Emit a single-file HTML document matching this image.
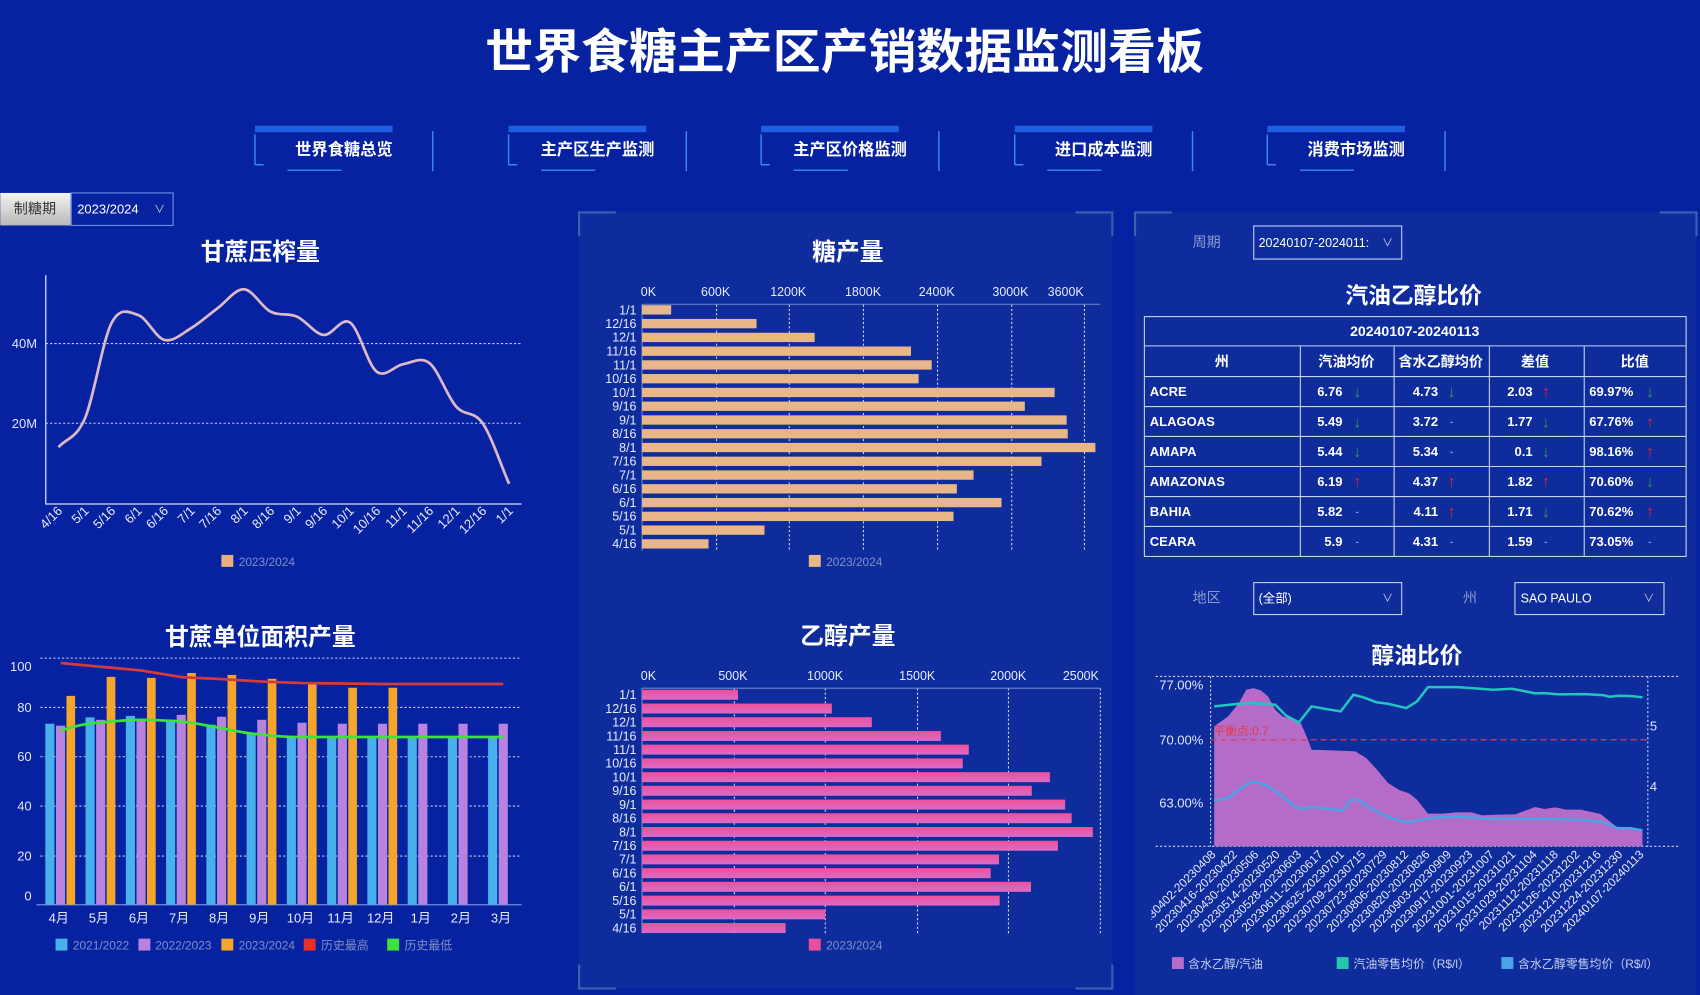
<!DOCTYPE html>
<html><head><meta charset="utf-8"><style>
html,body{margin:0;padding:0;background:#0622a0;}
svg{display:block;font-family:"Liberation Sans","Noto Sans CJK SC",sans-serif;}
</style></head><body>
<svg width="1700" height="995" viewBox="0 0 1568 918" xmlns="http://www.w3.org/2000/svg">
<defs>
<linearGradient id="pk" x1="0" y1="0" x2="0" y2="1"><stop offset="0" stop-color="#f04f9a"/><stop offset="1" stop-color="#d86cc8"/></linearGradient>
<linearGradient id="gb" x1="0" y1="0" x2="0" y2="1"><stop offset="0" stop-color="#f4f4f4"/><stop offset="1" stop-color="#b8b8b8"/></linearGradient>
<clipPath id="rc"><rect x="1062" y="600" width="500" height="318"/></clipPath>
</defs>
<rect width="1568" height="918" fill="#0622a0"/>
<!-- title -->
<text x="779" y="63" text-anchor="middle" font-size="44" font-weight="bold" fill="#fff" textLength="663" lengthAdjust="spacingAndGlyphs">世界食糖主产区产销数据监测看板</text>
<!-- nav -->
<g font-size="15" font-weight="bold" fill="#fff" text-anchor="middle">
<g transform="translate(0,0)"><rect x="235" y="116" width="127" height="6" fill="#1d5fe0"/><path d="M399 121V158M235 124V152M235 152h8M265 157h50" stroke="#3a8ae8" stroke-width="1.3" fill="none"/><text x="317" y="143">世界食糖总览</text></g>
<g transform="translate(234,0)"><rect x="235" y="116" width="127" height="6" fill="#1d5fe0"/><path d="M399 121V158M235 124V152M235 152h8M265 157h50" stroke="#3a8ae8" stroke-width="1.3" fill="none"/><text x="317" y="143">主产区生产监测</text></g>
<g transform="translate(467,0)"><rect x="235" y="116" width="127" height="6" fill="#1d5fe0"/><path d="M399 121V158M235 124V152M235 152h8M265 157h50" stroke="#3a8ae8" stroke-width="1.3" fill="none"/><text x="317" y="143">主产区价格监测</text></g>
<g transform="translate(701,0)"><rect x="235" y="116" width="127" height="6" fill="#1d5fe0"/><path d="M399 121V158M235 124V152M235 152h8M265 157h50" stroke="#3a8ae8" stroke-width="1.3" fill="none"/><text x="317" y="143">进口成本监测</text></g>
<g transform="translate(934,0)"><rect x="235" y="116" width="127" height="6" fill="#1d5fe0"/><path d="M399 121V158M235 124V152M235 152h8M265 157h50" stroke="#3a8ae8" stroke-width="1.3" fill="none"/><text x="317" y="143">消费市场监测</text></g>
</g>
<!-- 制糖期 -->
<rect x="0" y="178" width="65" height="30" fill="url(#gb)"/>
<text x="32" y="197" font-size="13" fill="#333" text-anchor="middle">制糖期</text>
<rect x="65.5" y="178" width="94" height="30" fill="none" stroke="#6f8fe8" stroke-width="1"/>
<text x="71" y="197" font-size="12" fill="#fff">2023/2024</text>
<text x="147" y="196" font-size="10" fill="#ccd" text-anchor="middle">∨</text>

<!-- panels -->
<rect x="534" y="196" width="492" height="716" fill="#0e2c9c"/>
<path d="M534 218V196h34M992 196h34v22M534 890v22h34M992 912h34v-22" stroke="#3c5fb0" stroke-width="2" fill="none"/>
<rect x="1047" y="196" width="518" height="722" fill="#0e2c9c"/>
<path d="M1047 218V196h34M1531 196h34v22" stroke="#3c5fb0" stroke-width="2" fill="none"/>

<!-- chart 1: 甘蔗压榨量 -->
<text x="240" y="240" font-size="22" font-weight="bold" fill="#fff" text-anchor="middle">甘蔗压榨量</text>
<path d="M42 317H481M42 390.5H481" stroke="#c8d2f0" stroke-dasharray="2,2" stroke-width="1"/>
<path d="M42 254V465H481" stroke="#d8def2" stroke-width="1.2" fill="none"/>
<g font-size="12" fill="#e0e6ff" text-anchor="end"><text x="34" y="321">40M</text><text x="34" y="395">20M</text></g>
<path d="M53.7,412.6 C61.9,403.7 70.0,405.0 78.2,385.9 C86.3,366.8 94.5,314.1 102.6,298.2 C110.8,282.3 119.0,288.0 127.1,290.6 C135.3,293.2 143.4,311.6 151.5,313.6 C159.7,315.6 167.9,307.7 176.0,302.8 C184.2,297.9 192.3,290.4 200.5,284.4 C208.6,278.4 216.8,266.4 224.9,266.9 C233.1,267.4 241.2,283.3 249.4,287.5 C257.5,291.7 265.7,288.5 273.8,292.1 C282.0,295.7 290.1,308.1 298.3,309.0 C306.4,309.9 314.6,292.0 322.8,297.6 C330.9,303.2 339.0,336.4 347.2,342.8 C355.4,349.2 363.5,337.3 371.7,336.0 C379.9,334.7 388.0,328.6 396.1,335.1 C404.3,341.6 412.4,365.9 420.6,375.1 C428.8,384.3 436.9,378.6 445.1,390.5 C453.2,402.4 461.4,427.8 469.5,446.4" stroke="#dcb9c8" stroke-width="2.5" fill="none"/>
<g font-size="12" fill="#e8ecff" text-anchor="end">
<text transform="translate(58,472) rotate(-45)">4/16</text><text transform="translate(82.5,472) rotate(-45)">5/1</text><text transform="translate(107,472) rotate(-45)">5/16</text><text transform="translate(131.4,472) rotate(-45)">6/1</text><text transform="translate(155.8,472) rotate(-45)">6/16</text><text transform="translate(180.3,472) rotate(-45)">7/1</text><text transform="translate(204.8,472) rotate(-45)">7/16</text><text transform="translate(229.2,472) rotate(-45)">8/1</text><text transform="translate(253.7,472) rotate(-45)">8/16</text><text transform="translate(278.1,472) rotate(-45)">9/1</text><text transform="translate(302.6,472) rotate(-45)">9/16</text><text transform="translate(327.1,472) rotate(-45)">10/1</text><text transform="translate(351.5,472) rotate(-45)">10/16</text><text transform="translate(376,472) rotate(-45)">11/1</text><text transform="translate(400.4,472) rotate(-45)">11/16</text><text transform="translate(424.9,472) rotate(-45)">12/1</text><text transform="translate(449.4,472) rotate(-45)">12/16</text><text transform="translate(473.8,472) rotate(-45)">1/1</text>
</g>
<rect x="204" y="512" width="11" height="11" fill="#e8b07a"/><text x="220" y="522" font-size="11" fill="#7f8fc8">2023/2024</text>

<!-- chart 2: 甘蔗单位面积产量 -->
<text x="240" y="595" font-size="22" font-weight="bold" fill="#fff" text-anchor="middle">甘蔗单位面积产量</text>
<path d="M37 607.2H481M37 652.7H481M37 698.2H481M37 743.7H481M37 789.8H481" stroke="#c8d2f0" stroke-dasharray="2,2" stroke-width="1"/>
<path d="M33.5 834.7H481" stroke="#6f8fe0" stroke-width="1.2"/>
<g font-size="12" fill="#e0e6ff" text-anchor="end"><text x="29" y="619">100</text><text x="29" y="657">80</text><text x="29" y="702">60</text><text x="29" y="748">40</text><text x="29" y="794">20</text><text x="29" y="831">0</text></g>
<g fill="#4ab0ec">
<rect x="41.6" y="667.7" width="8.4" height="167"/><rect x="78.7" y="661.8" width="8.4" height="172.9"/><rect x="115.9" y="660.5" width="8.4" height="174.2"/><rect x="153" y="664.1" width="8.4" height="170.6"/><rect x="190.2" y="668.6" width="8.4" height="166.1"/><rect x="227.3" y="677" width="8.4" height="157.7"/><rect x="264.4" y="680" width="8.4" height="154.7"/><rect x="301.6" y="680" width="8.4" height="154.7"/><rect x="338.7" y="680" width="8.4" height="154.7"/><rect x="375.9" y="680" width="8.4" height="154.7"/><rect x="413" y="680" width="8.4" height="154.7"/><rect x="450.1" y="680" width="8.4" height="154.7"/>
</g>
<g fill="#b783de">
<rect x="51.4" y="669.5" width="8.4" height="165.2"/><rect x="88.5" y="664.1" width="8.4" height="170.6"/><rect x="125.7" y="664.1" width="8.4" height="170.6"/><rect x="162.8" y="659.5" width="8.4" height="175.2"/><rect x="200" y="661.3" width="8.4" height="173.4"/><rect x="237.1" y="664.1" width="8.4" height="170.6"/><rect x="274.2" y="666.8" width="8.4" height="167.9"/><rect x="311.4" y="667.7" width="8.4" height="167"/><rect x="348.5" y="667.7" width="8.4" height="167"/><rect x="385.7" y="667.7" width="8.4" height="167"/><rect x="422.8" y="667.7" width="8.4" height="167"/><rect x="459.9" y="667.7" width="8.4" height="167"/>
</g>
<g fill="#f5a52a">
<rect x="61.1" y="642" width="8" height="192.7"/><rect x="98.2" y="624.5" width="8" height="210.2"/><rect x="135.4" y="625.4" width="8" height="209.3"/><rect x="172.5" y="620.9" width="8" height="213.8"/><rect x="209.7" y="622.7" width="8" height="212"/><rect x="246.8" y="626.3" width="8" height="208.4"/><rect x="283.9" y="630.2" width="8" height="204.5"/><rect x="321.1" y="634.5" width="8" height="200.2"/><rect x="358.2" y="634.5" width="8" height="200.2"/>
</g>
<polyline points="55.7,611.7 92.8,615.2 130,618.6 167.1,624.7 204.3,626.6 241.4,628.8 278.5,630.2 315.7,630.6 352.8,631.1 390,631.1 427.1,631.1 464.2,631.1" stroke="#d63a3a" stroke-width="2.5" fill="none" stroke-linejoin="round"/>
<path d="M55.7,673.9 C70,670 80,667 92.8,666.6 C110,665 118,664.1 130,664.1 C145,664.1 155,665 167.1,665.7 C182,667 192,670 204.3,671.8 C220,675 230,677 241.4,677.7 C255,679.5 268,680 278.5,680 L464.2,680" stroke="#3ee23a" stroke-width="2.5" fill="none"/>
<g font-size="12" fill="#e8ecff" text-anchor="middle">
<text x="54" y="851">4月</text><text x="91" y="851">5月</text><text x="128" y="851">6月</text><text x="165" y="851">7月</text><text x="202" y="851">8月</text><text x="239" y="851">9月</text><text x="277" y="851">10月</text><text x="314" y="851">11月</text><text x="351" y="851">12月</text><text x="388" y="851">1月</text><text x="425" y="851">2月</text><text x="462" y="851">3月</text>
</g>
<g font-size="11" fill="#7f8fc8">
<rect x="51" y="866" width="11" height="11" fill="#4ab0ec"/><text x="67" y="876">2021/2022</text>
<rect x="127.5" y="866" width="11" height="11" fill="#b783de"/><text x="143" y="876">2022/2023</text>
<rect x="204" y="866" width="11" height="11" fill="#f5a52a"/><text x="220" y="876">2023/2024</text>
<rect x="280" y="866" width="11" height="11" fill="#e8302a"/><text x="296" y="876">历史最高</text>
<rect x="357" y="866" width="11" height="11" fill="#3ee23a"/><text x="373" y="876">历史最低</text>
</g>

<!-- 糖产量 -->
<text x="782" y="240" font-size="22" font-weight="bold" fill="#fff" text-anchor="middle">糖产量</text>
<path d="M660.9 281V508M728 281V508M796.4 281V508M864.8 281V508M933.2 281V508M1000.3 281V508" stroke="#d0d8f0" stroke-dasharray="2,2"/>
<path d="M592.1 280.7H1015" stroke="#6f86c8"/>
<path d="M592.1 280.7V508" stroke="#6f86c8"/>
<g font-size="11.5" fill="#e8ecff" text-anchor="middle"><text x="598" y="273">0K</text><text x="660" y="273">600K</text><text x="727" y="273">1200K</text><text x="796" y="273">1800K</text><text x="864" y="273">2400K</text><text x="932" y="273">3000K</text><text x="983" y="273">3600K</text></g>
<g fill="#e9b68a">
<rect x="592.1" y="281.6" width="26.9" height="8.6"/><rect x="592.1" y="294.3" width="105.7" height="8.6"/><rect x="592.1" y="307" width="159.3" height="8.6"/><rect x="592.1" y="319.7" width="248.2" height="8.6"/><rect x="592.1" y="332.4" width="267.3" height="8.6"/><rect x="592.1" y="345.1" width="255.2" height="8.6"/><rect x="592.1" y="357.8" width="380.7" height="8.6"/><rect x="592.1" y="370.5" width="353.2" height="8.6"/><rect x="592.1" y="383.2" width="391.8" height="8.6"/><rect x="592.1" y="395.9" width="392.8" height="8.6"/><rect x="592.1" y="408.6" width="418.3" height="8.6"/><rect x="592.1" y="421.3" width="368.6" height="8.6"/><rect x="592.1" y="434" width="305.9" height="8.6"/><rect x="592.1" y="446.7" width="290.5" height="8.6"/><rect x="592.1" y="459.4" width="331.7" height="8.6"/><rect x="592.1" y="472.1" width="287.4" height="8.6"/><rect x="592.1" y="484.8" width="113" height="8.6"/><rect x="592.1" y="497.5" width="61.4" height="8.6"/>
</g>
<g font-size="11.5" fill="#e8ecff" text-anchor="end">
<text x="587" y="290">1/1</text><text x="587" y="302.6">12/16</text><text x="587" y="315.3">12/1</text><text x="587" y="328">11/16</text><text x="587" y="340.7">11/1</text><text x="587" y="353.4">10/16</text><text x="587" y="366.1">10/1</text><text x="587" y="378.8">9/16</text><text x="587" y="391.5">9/1</text><text x="587" y="404.2">8/16</text><text x="587" y="416.9">8/1</text><text x="587" y="429.6">7/16</text><text x="587" y="442.3">7/1</text><text x="587" y="455">6/16</text><text x="587" y="467.7">6/1</text><text x="587" y="480.4">5/16</text><text x="587" y="493.1">5/1</text><text x="587" y="505.8">4/16</text>
</g>
<rect x="746" y="512" width="11" height="11" fill="#e9b68a"/><text x="762" y="522" font-size="11" fill="#7f8fc8">2023/2024</text>

<!-- 乙醇产量 -->
<text x="782" y="594" font-size="22" font-weight="bold" fill="#fff" text-anchor="middle">乙醇产量</text>
<path d="M677.3 635V861M761.2 635V861M846.3 635V861M930.2 635V861M1015 635V861" stroke="#d0d8f0" stroke-dasharray="2,2"/>
<path d="M592.1 634.9H1015M592.1 634.9V861" stroke="#6f86c8"/>
<g font-size="11.5" fill="#e8ecff" text-anchor="middle"><text x="598" y="627.5">0K</text><text x="676" y="627.5">500K</text><text x="761" y="627.5">1000K</text><text x="846" y="627.5">1500K</text><text x="930" y="627.5">2000K</text><text x="997" y="627.5">2500K</text></g>
<g fill="url(#pk)">
<rect x="592.1" y="636.4" width="88.6" height="9.2"/><rect x="592.1" y="649.1" width="175.1" height="9.2"/><rect x="592.1" y="661.7" width="212" height="9.2"/><rect x="592.1" y="674.4" width="275.7" height="9.2"/><rect x="592.1" y="687" width="301.5" height="9.2"/><rect x="592.1" y="699.7" width="295.9" height="9.2"/><rect x="592.1" y="712.4" width="376.3" height="9.2"/><rect x="592.1" y="725" width="359.6" height="9.2"/><rect x="592.1" y="737.7" width="390.4" height="9.2"/><rect x="592.1" y="750.3" width="396.4" height="9.2"/><rect x="592.1" y="763" width="415.9" height="9.2"/><rect x="592.1" y="775.7" width="383.7" height="9.2"/><rect x="592.1" y="788.3" width="329.4" height="9.2"/><rect x="592.1" y="801" width="321.7" height="9.2"/><rect x="592.1" y="813.6" width="358.9" height="9.2"/><rect x="592.1" y="826.3" width="330" height="9.2"/><rect x="592.1" y="839" width="169.1" height="9.2"/><rect x="592.1" y="851.6" width="132.5" height="9.2"/>
</g>
<g font-size="11.5" fill="#e8ecff" text-anchor="end">
<text x="587" y="645">1/1</text><text x="587" y="657.7">12/16</text><text x="587" y="670.3">12/1</text><text x="587" y="683">11/16</text><text x="587" y="695.6">11/1</text><text x="587" y="708.3">10/16</text><text x="587" y="721">10/1</text><text x="587" y="733.6">9/16</text><text x="587" y="746.3">9/1</text><text x="587" y="758.9">8/16</text><text x="587" y="771.6">8/1</text><text x="587" y="784.3">7/16</text><text x="587" y="796.9">7/1</text><text x="587" y="809.6">6/16</text><text x="587" y="822.2">6/1</text><text x="587" y="834.9">5/16</text><text x="587" y="847.5">5/1</text><text x="587" y="860.2">4/16</text>
</g>
<rect x="746" y="866" width="11" height="11" fill="#ea4f9e"/><text x="762" y="876" font-size="11" fill="#7f8fc8">2023/2024</text>

<!-- right top -->
<text x="1113" y="228" font-size="13" fill="#8a9ad0" text-anchor="middle">周期</text>
<rect x="1156.5" y="208.5" width="136.5" height="30.5" fill="none" stroke="#c8d4f4" stroke-width="1"/>
<text x="1161" y="228" font-size="11.5" fill="#fff">20240107-2024011:</text>
<text x="1280" y="227" font-size="10" fill="#ccd" text-anchor="middle">∨</text>
<text x="1304" y="280" font-size="21" font-weight="bold" fill="#fff" text-anchor="middle">汽油乙醇比价</text>
<g stroke="#c8d4f4" stroke-width="1" fill="none">
<rect x="1055.6" y="292.1" width="499.8" height="221.3"/>
<path d="M1055.6 319.1H1555.4M1055.6 347.4H1555.4M1055.6 375.1H1555.4M1055.6 402.7H1555.4M1055.6 430.4H1555.4M1055.6 458.1H1555.4M1055.6 485.7H1555.4"/>
<path d="M1199.5 319.1V513.4M1286 319.1V513.4M1373.9 319.1V513.4M1461.4 319.1V513.4"/>
</g>
<g font-size="13" font-weight="bold" fill="#fff">
<text x="1305" y="310" text-anchor="middle">20240107-20240113</text>
<g text-anchor="middle"><text x="1127" y="338">州</text><text x="1242" y="338">汽油均价</text><text x="1329" y="338">含水乙醇均价</text><text x="1416" y="338">差值</text><text x="1508" y="338">比值</text></g>
<g font-size="12"><text x="1060.6" y="365.5">ACRE</text><text x="1060.6" y="393.2">ALAGOAS</text><text x="1060.6" y="420.8">AMAPA</text><text x="1060.6" y="448.5">AMAZONAS</text><text x="1060.6" y="476.2">BAHIA</text><text x="1060.6" y="503.8">CEARA</text></g>
<g font-size="12" text-anchor="end">
<text x="1238.4" y="365.5">6.76</text><text x="1238.4" y="393.2">5.49</text><text x="1238.4" y="420.8">5.44</text><text x="1238.4" y="448.5">6.19</text><text x="1238.4" y="476.2">5.82</text><text x="1238.4" y="503.8">5.9</text>
<text x="1326.6" y="365.5">4.73</text><text x="1326.6" y="393.2">3.72</text><text x="1326.6" y="420.8">5.34</text><text x="1326.6" y="448.5">4.37</text><text x="1326.6" y="476.2">4.11</text><text x="1326.6" y="503.8">4.31</text>
<text x="1413.8" y="365.5">2.03</text><text x="1413.8" y="393.2">1.77</text><text x="1413.8" y="420.8">0.1</text><text x="1413.8" y="448.5">1.82</text><text x="1413.8" y="476.2">1.71</text><text x="1413.8" y="503.8">1.59</text>
<text x="1506.7" y="365.5">69.97%</text><text x="1506.7" y="393.2">67.76%</text><text x="1506.7" y="420.8">98.16%</text><text x="1506.7" y="448.5">70.60%</text><text x="1506.7" y="476.2">70.62%</text><text x="1506.7" y="503.8">73.05%</text>
</g>
</g>
<g font-size="15" font-weight="bold" text-anchor="middle">
<text x="1252" y="366.5" fill="#2e9c4a">↓</text><text x="1339" y="366.5" fill="#2e9c4a">↓</text><text x="1426" y="366.5" fill="#e02a2a">↑</text><text x="1522" y="366.5" fill="#2e9c4a">↓</text>
<text x="1252" y="394.2" fill="#2e9c4a">↓</text><text x="1339" y="392" fill="#8a9ad0" font-size="9">-</text><text x="1426" y="394.2" fill="#2e9c4a">↓</text><text x="1522" y="394.2" fill="#e02a2a">↑</text>
<text x="1252" y="421.8" fill="#2e9c4a">↓</text><text x="1339" y="419.6" fill="#8a9ad0" font-size="9">-</text><text x="1426" y="421.8" fill="#2e9c4a">↓</text><text x="1522" y="421.8" fill="#e02a2a">↑</text>
<text x="1252" y="449.5" fill="#e02a2a">↑</text><text x="1339" y="449.5" fill="#e02a2a">↑</text><text x="1426" y="449.5" fill="#e02a2a">↑</text><text x="1522" y="449.5" fill="#2e9c4a">↓</text>
<text x="1252" y="475" fill="#8a9ad0" font-size="9">-</text><text x="1339" y="477.2" fill="#e02a2a">↑</text><text x="1426" y="477.2" fill="#2e9c4a">↓</text><text x="1522" y="477.2" fill="#e02a2a">↑</text>
<text x="1252" y="502.6" fill="#8a9ad0" font-size="9">-</text><text x="1339" y="502.6" fill="#8a9ad0" font-size="9">-</text><text x="1426" y="502.6" fill="#8a9ad0" font-size="9">-</text><text x="1522" y="502.6" fill="#8a9ad0" font-size="9">-</text>
</g>

<!-- right bottom selectors -->
<text x="1113" y="556" font-size="13" fill="#8a9ad0" text-anchor="middle">地区</text>
<rect x="1156.5" y="537.5" width="136.5" height="29.5" fill="none" stroke="#c8d4f4"/>
<text x="1161" y="556" font-size="11.5" fill="#fff">(全部)</text>
<text x="1280" y="555" font-size="10" fill="#ccd" text-anchor="middle">∨</text>
<text x="1356" y="556" font-size="13" fill="#8a9ad0" text-anchor="middle">州</text>
<rect x="1397.5" y="537.5" width="137.5" height="29.5" fill="none" stroke="#c8d4f4"/>
<text x="1402.7" y="556" font-size="11.5" fill="#fff">SAO PAULO</text>
<text x="1521" y="555" font-size="10" fill="#ccd" text-anchor="middle">∨</text>

<!-- 醇油比价 -->
<text x="1307" y="612" font-size="21" font-weight="bold" fill="#fff" text-anchor="middle">醇油比价</text>
<path d="M1066 624.1H1549M1066 780.8H1549" stroke="#d0d8f0" stroke-dasharray="2,2"/>
<path d="M1116.7 624V781M1520.1 624V781" stroke="#d0d8f0" stroke-dasharray="2,2"/>
<g transform="translate(1042.2,525.7) scale(0.3354,0.3074)">
<path d="M232,470 L270,440 L300,400 L320,360 L340,355 L360,362 L380,380 L400,420 L420,440 L450,450 L470,460 L490,510 L500,540 L560,542 L620,545 L650,565 L680,600 L710,640 L740,660 L770,672 L790,690 L820,732 L860,732 L900,728 L940,728 L970,737 L1010,735 L1060,734 L1090,722 L1115,712 L1140,718 L1170,713 L1200,720 L1240,720 L1270,727 L1295,733 L1320,755 L1340,772 L1380,775 L1410,780 L1410,830 L232,830 Z" fill="#b46cc8"/>
<path d="M222,510 H1425" stroke="#e03a5a" stroke-width="1.3" stroke-dasharray="6,4" vector-effect="non-scaling-stroke" fill="none"/>
<polyline points="232,410 300,402 340,400 400,405 430,438 465,458 500,410 540,418 580,425 615,375 640,382 680,398 710,402 760,415 790,395 820,352 900,352 950,356 1000,360 1050,357 1080,363 1115,371 1140,370 1180,374 1250,373 1300,376 1320,381 1345,378 1380,379 1410,383" fill="none" stroke="#22c6c0" stroke-width="2.5" vector-effect="non-scaling-stroke" stroke-linejoin="round"/>
<polyline points="232,693 270,685 300,660 330,638 350,637 380,650 420,680 450,708 470,718 500,712 540,716 585,723 610,688 630,692 670,720 710,742 760,758 800,750 840,743 900,741 960,745 1000,748 1100,748 1200,749 1250,751 1300,757 1340,775 1380,776 1410,782" fill="none" stroke="#4aa4e6" stroke-width="2.5" vector-effect="non-scaling-stroke" stroke-linejoin="round"/>
</g>
<text x="1119" y="678" font-size="11" fill="#e83a3a">平衡点:0.7</text>
<g font-size="12" fill="#e0e6ff" text-anchor="end"><text x="1110" y="636">77.00%</text><text x="1110" y="687">70.00%</text><text x="1110" y="745">63.00%</text></g>
<g font-size="12" fill="#e0e6ff"><text x="1522" y="674">5</text><text x="1522" y="730">4</text></g>
<g font-size="11" fill="#e8ecff" text-anchor="end" clip-path="url(#rc)">
<text transform="translate(1122,789) rotate(-45)">20230402-20230408</text><text transform="translate(1141.8,789) rotate(-45)">20230416-20230422</text><text transform="translate(1161.5,789) rotate(-45)">20230430-20230506</text><text transform="translate(1181.3,789) rotate(-45)">20230514-20230520</text><text transform="translate(1201,789) rotate(-45)">20230528-20230603</text><text transform="translate(1220.8,789) rotate(-45)">20230611-20230617</text><text transform="translate(1240.5,789) rotate(-45)">20230625-20230701</text><text transform="translate(1260.3,789) rotate(-45)">20230709-20230715</text><text transform="translate(1280,789) rotate(-45)">20230723-20230729</text><text transform="translate(1299.8,789) rotate(-45)">20230806-20230812</text><text transform="translate(1319.5,789) rotate(-45)">20230820-20230826</text><text transform="translate(1339.3,789) rotate(-45)">20230903-20230909</text><text transform="translate(1359,789) rotate(-45)">20230917-20230923</text><text transform="translate(1378.8,789) rotate(-45)">20231001-20231007</text><text transform="translate(1398.5,789) rotate(-45)">20231015-20231021</text><text transform="translate(1418.3,789) rotate(-45)">20231029-20231104</text><text transform="translate(1438,789) rotate(-45)">20231112-20231118</text><text transform="translate(1457.8,789) rotate(-45)">20231126-20231202</text><text transform="translate(1477.5,789) rotate(-45)">20231210-20231216</text><text transform="translate(1497.3,789) rotate(-45)">20231224-20231230</text><text transform="translate(1517,789) rotate(-45)">20240107-20240113</text>
</g>
<g font-size="11" fill="#c8d0f0">
<rect x="1081" y="883" width="11" height="11" fill="#b46cc8"/><text x="1096" y="893">含水乙醇/汽油</text>
<rect x="1233" y="883" width="11" height="11" fill="#22c6a8"/><text x="1248.5" y="893">汽油零售均价（R$/l）</text>
<rect x="1385" y="883" width="11" height="11" fill="#4aa4e6"/><text x="1400.4" y="893">含水乙醇零售均价（R$/l）</text>
</g>
</svg>
</body></html>
